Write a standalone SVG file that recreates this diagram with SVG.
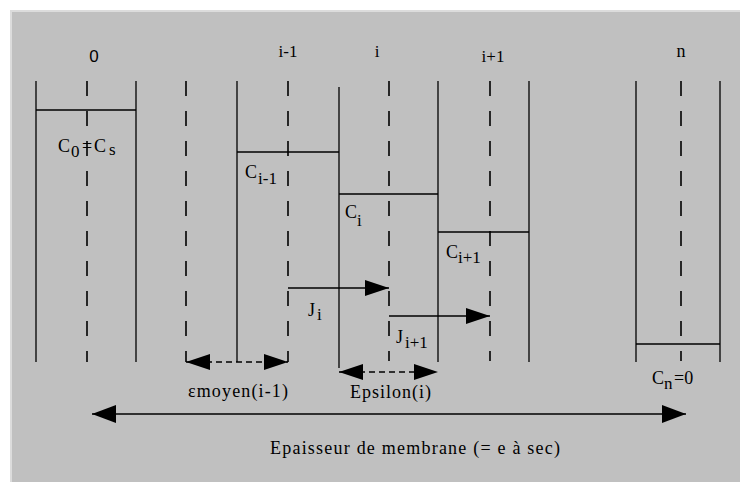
<svg xmlns="http://www.w3.org/2000/svg" width="740" height="482" viewBox="0 0 740 482">
<defs>
<marker id="ah" viewBox="0 0 24 16" markerWidth="24" markerHeight="16" refX="24" refY="8" orient="auto-start-reverse" markerUnits="userSpaceOnUse"><path d="M0,0 L24,8 L0,16 z" fill="#000"/></marker>
<marker id="ahL" viewBox="0 0 24 18" markerWidth="24" markerHeight="18" refX="24" refY="9" orient="auto-start-reverse" markerUnits="userSpaceOnUse"><path d="M0,0 L24,9 L0,18 z" fill="#000"/></marker>
</defs>
<style>
.s{stroke:#000;stroke-width:1.3;fill:none}
.d{stroke:#000;stroke-width:1.6;stroke-dasharray:15 15;fill:none}
.ad{stroke:#000;stroke-width:1.3;stroke-dasharray:6 4;fill:none}
.a{stroke:#000;stroke-width:1.3;fill:none}
text{font-family:"Liberation Serif","Times New Roman",serif;font-size:18px;fill:#000}
.sans{font-family:"Liberation Sans",Arial,sans-serif;font-size:17px}
.top{font-size:17px;text-anchor:middle}
.sub{font-size:17px}
</style>
<rect x="0" y="0" width="740" height="482" fill="#ffffff"/>
<rect x="10" y="10" width="730" height="472" fill="#dcdcdc"/>
<rect x="12" y="12" width="728" height="470" fill="#c0c0c0"/>

<g id="col-0">
<line class="s" x1="36" y1="81" x2="36" y2="362"/>
<line class="s" x1="136" y1="81" x2="136" y2="362"/>
<line class="d" x1="87" y1="81" x2="87" y2="362"/>
<line class="s" x1="36" y1="110" x2="136" y2="110"/>
<text class="sans" x="94" y="62" text-anchor="middle">0</text>
<text x="58" y="152">C<tspan class="sub" x="71" dy="5">0</tspan><tspan x="82" dy="-5">=</tspan><tspan x="94">C</tspan><tspan class="sub" x="109" dy="3">s</tspan></text>
</g>

<g id="col-i-1">
<line class="d" x1="186" y1="81" x2="186" y2="362"/>
<line class="s" x1="237" y1="81" x2="237" y2="362"/>
<line class="d" x1="288" y1="81" x2="288" y2="362"/>
<line class="s" x1="237" y1="152" x2="339" y2="152"/>
<text class="top" x="288" y="57">i-1</text>
<text x="245" y="178">C<tspan class="sub" x="258" dy="6">i-1</tspan></text>
</g>

<g id="col-i">
<line class="s" x1="339" y1="87" x2="339" y2="368"/>
<line class="d" x1="389" y1="81" x2="389" y2="361"/>
<line class="s" x1="339" y1="194" x2="438" y2="194"/>
<text class="top" x="377" y="57">i</text>
<text x="345" y="218">C<tspan class="sub" x="357" dy="8">i</tspan></text>
</g>

<g id="col-i+1">
<line class="s" x1="438" y1="81" x2="438" y2="362"/>
<line class="d" x1="490" y1="81" x2="490" y2="361"/>
<line class="s" x1="529" y1="81" x2="529" y2="362"/>
<line class="s" x1="438" y1="232" x2="529" y2="232"/>
<text class="top" x="493" y="62">i+1</text>
<text x="446" y="258">C<tspan class="sub" x="458" dy="5">i+1</tspan></text>
</g>

<g id="col-n">
<line class="s" x1="636" y1="81" x2="636" y2="362"/>
<line class="d" x1="681" y1="81" x2="681" y2="361"/>
<line class="s" x1="720" y1="81" x2="720" y2="362"/>
<line class="s" x1="636" y1="344" x2="720" y2="344"/>
<text class="top" x="681" y="57" style="font-size:18px">n</text>
<text x="652" y="384">C<tspan class="sub" x="664" dy="5">n</tspan><tspan x="674" dy="-5">=0</tspan></text>
</g>

<g id="connectors">
<line class="a" x1="288" y1="288" x2="389" y2="288" marker-end="url(#ah)"/>
<line class="a" x1="389" y1="316" x2="490" y2="316" marker-end="url(#ah)"/>
<line class="ad" x1="186" y1="362" x2="288" y2="362" marker-start="url(#ah)" marker-end="url(#ah)"/>
<line class="ad" x1="339" y1="372" x2="438" y2="372" marker-start="url(#ah)" marker-end="url(#ah)"/>
<line class="a" x1="92" y1="414" x2="686" y2="414" marker-start="url(#ahL)" marker-end="url(#ahL)"/>
</g>

<g id="labels">
<text x="308" y="316">J<tspan class="sub" x="317" dy="4">i</tspan></text>
<text x="396" y="343">J<tspan class="sub" x="405" dy="5">i+1</tspan></text>
<text x="188" y="397" textLength="100" lengthAdjust="spacing">εmoyen(i-1)</text>
<text x="350" y="398" textLength="81" lengthAdjust="spacing">Epsilon(i)</text>
<text x="270" y="454" textLength="290" lengthAdjust="spacing">Epaisseur de membrane (= e à sec)</text>
</g>
</svg>
